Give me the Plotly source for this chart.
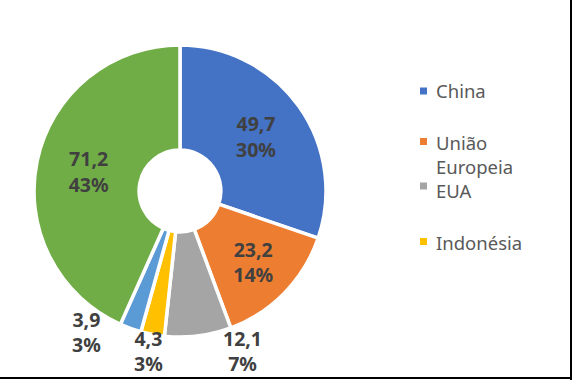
import plotly.graph_objects as go

# ---- data ----
categories = ["China", "União Europeia", "EUA", "Indonésia", "Categoria 5", "Categoria 6"]
values = [49.7, 23.2, 12.1, 4.3, 3.9, 71.2]
pct_labels = ["30%", "14%", "7%", "3%", "3%", "43%"]
legend_labels = ["China", "União", "Europeia", "EUA", "Indonésia"]

# ---- style ----
colors = ["#4472C4", "#ED7D31", "#A5A5A5", "#FFC000", "#5B9BD5", "#70AD47"]
label_color = "#404040"
legend_color = "#595959"
font_family = "Noto Sans, Lato, sans-serif"
W, H = 573, 380

inside = [True, True, False, False, False, True]
texttemplate = ["%{value:.1f}<br>%{customdata}" if ins else "" for ins in inside]

fig = go.Figure()
fig.add_trace(go.Pie(
    labels=categories,
    values=values,
    customdata=pct_labels,
    sort=False,
    direction="clockwise",
    rotation=0,
    hole=0.28,
    marker=dict(colors=colors, line=dict(color="white", width=3.5)),
    texttemplate=texttemplate,
    textposition="inside",
    insidetextorientation="horizontal",
    insidetextfont=dict(family=font_family, size=19.5, color=label_color, weight="bold"),
    showlegend=False,
    domain=dict(x=[34 / W, 326 / W], y=[1 - 337 / H, 1 - 45 / H]),
))

# outside labels for the small slices (positions in pixels of the figure)
outside_pos = {2: (242, 351), 3: (148, 351), 4: (86, 332)}
annotations = []
for i, (px, py) in outside_pos.items():
    txt = f"{values[i]:.1f}".replace(".", ",") + "<br>" + pct_labels[i]
    annotations.append(dict(
        x=px / W, y=1 - py / H, xref="paper", yref="paper",
        xanchor="center", yanchor="middle", showarrow=False,
        text=txt, font=dict(family=font_family, size=19.5, color=label_color, weight="bold"),
    ))

# legend (manual, Excel-like)
legend_marker = [(91, colors[0]), (141.5, colors[1]), (186, colors[2]), (241.5, colors[3])]
legend_text_y = [91, 142, 167, 190, 242]
shapes = []
for my, col in legend_marker:
    shapes.append(dict(type="rect", xref="paper", yref="paper",
                       x0=420 / W, x1=427 / W, y0=1 - (my + 3.5) / H, y1=1 - (my - 3.5) / H,
                       fillcolor=col, line=dict(width=0)))
for lab, ty in zip(legend_labels, legend_text_y):
    annotations.append(dict(
        x=434 / W, y=1 - ty / H, xref="paper", yref="paper",
        xanchor="left", yanchor="middle", align="left", showarrow=False,
        text=lab, font=dict(family=font_family, size=18.5, color=legend_color),
    ))

# frame lines (right and bottom)
shapes.append(dict(type="line", xref="paper", yref="paper", x0=571 / W, x1=571 / W, y0=0, y1=1,
                   line=dict(color="black", width=2)))
shapes.append(dict(type="line", xref="paper", yref="paper", x0=0, x1=572 / W, y0=1 - 378 / H, y1=1 - 378 / H,
                   line=dict(color="black", width=2)))

fig.update_layout(
    width=W, height=H,
    margin=dict(l=0, r=0, t=0, b=0),
    paper_bgcolor="white", plot_bgcolor="white",
    separators=",.",
    annotations=annotations,
    shapes=shapes,
    showlegend=False,
)

fig.write_html("out.html", config={"displayModeBar": False},
               post_script="document.body.style.margin='0';document.body.style.overflow='hidden';")
